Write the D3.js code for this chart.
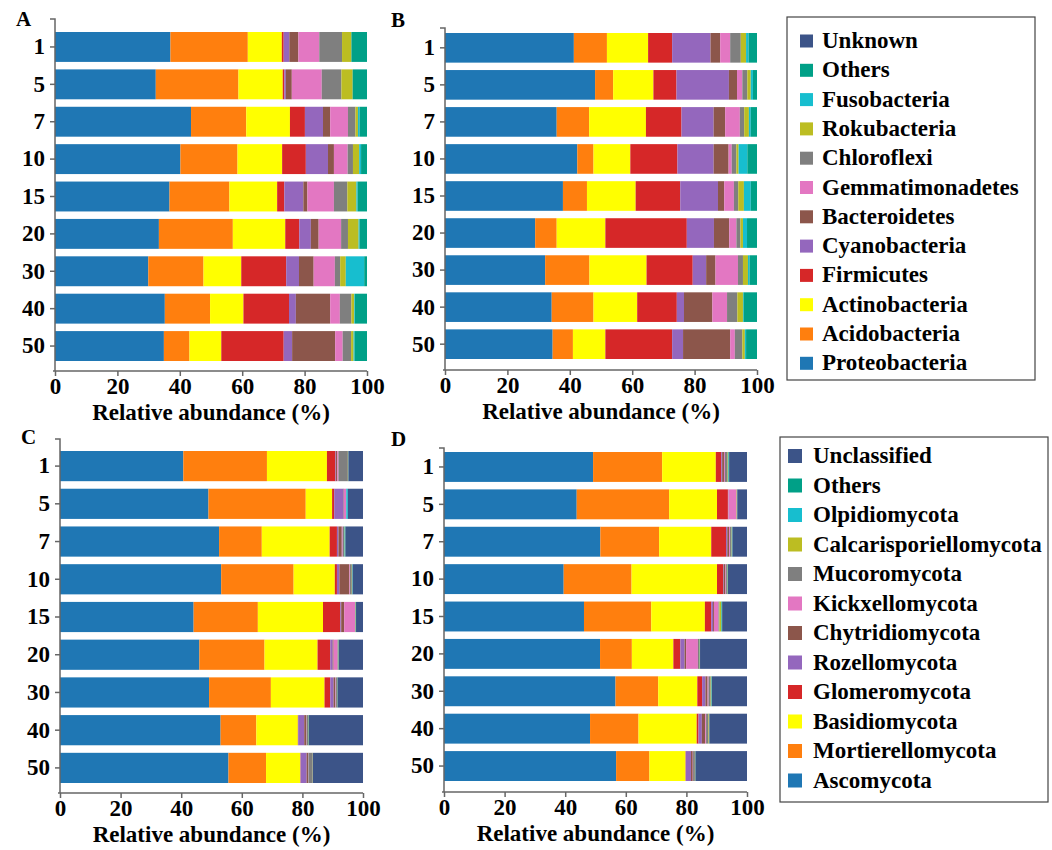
<!DOCTYPE html>
<html>
<head>
<meta charset="utf-8">
<script src="https://cdn.jsdelivr.net/npm/d3@7"></script>
<style>
  html, body { margin: 0; padding: 0; background: #fff; }
  svg { display: block; }
</style>
</head>
<body>
<svg id="chart" width="1052" height="850"></svg>
<script>
// Soil depth layers (cm) shown on each y axis
const depths = ["1", "5", "7", "10", "15", "20", "30", "40", "50"];

// Phyla, bottom of the stack first
const bacteriaPhyla = ["Proteobacteria", "Acidobacteria", "Actinobacteria", "Firmicutes",
  "Cyanobacteria", "Bacteroidetes", "Gemmatimonadetes", "Chloroflexi", "Rokubacteria",
  "Fusobacteria", "Others", "Unknown"];
const fungiPhyla = ["Ascomycota", "Mortierellomycota", "Basidiomycota", "Glomeromycota",
  "Rozellomycota", "Chytridiomycota", "Kickxellomycota", "Mucoromycota",
  "Calcarisporiellomycota", "Olpidiomycota", "Others", "Unclassified"];

const phylaColors = ["#1f77b4", "#ff7f0e", "#ffff00", "#d62728", "#9467bd", "#8c564b",
  "#e377c2", "#7f7f7f", "#bcbd22", "#17becf", "#00a087", "#3c5488"];

// Relative abundance (%) per depth, columns in phylum order
const bacteriaA = [
  [37.0, 24.8, 10.9, 0.6, 1.8, 2.9, 6.7, 7.3, 3.0, 0.0, 5.0, 0],
  [32.3, 26.5, 14.2, 0.5, 0.5, 1.9, 9.6, 6.3, 3.6, 0.0, 4.6, 0],
  [43.6, 17.7, 14.0, 4.8, 5.8, 2.3, 5.7, 2.4, 0.8, 0.5, 2.4, 0],
  [40.2, 18.3, 14.3, 7.6, 7.1, 1.9, 4.4, 1.7, 2.0, 0.6, 1.9, 0],
  [36.7, 19.2, 15.3, 2.3, 6.1, 1.3, 8.5, 4.3, 2.9, 0.4, 3.0, 0],
  [33.3, 23.7, 16.8, 4.5, 3.7, 2.5, 7.2, 2.2, 3.4, 0.3, 2.4, 0],
  [29.9, 17.7, 12.1, 14.4, 4.1, 4.7, 6.8, 1.7, 1.8, 5.9, 0.9, 0],
  [35.2, 14.5, 10.7, 14.6, 2.2, 11.0, 3.1, 3.7, 0.9, 0.2, 3.9, 0],
  [34.9, 8.2, 10.2, 20.0, 2.7, 13.8, 2.4, 2.7, 0.8, 0.3, 4.0, 0]
];
const bacteriaB = [
  [41.3, 10.6, 13.2, 7.7, 12.3, 3.1, 3.2, 3.4, 1.7, 0.8, 2.7, 0],
  [48.1, 5.8, 12.9, 7.4, 16.8, 2.6, 1.7, 1.6, 1.1, 0.7, 1.3, 0],
  [35.8, 10.4, 18.2, 11.4, 10.3, 3.7, 4.7, 1.4, 1.5, 0.6, 2.0, 0],
  [42.4, 5.2, 11.8, 15.1, 11.6, 4.8, 1.0, 1.5, 0.7, 2.8, 3.1, 0],
  [37.8, 7.7, 15.6, 14.3, 12.1, 2.0, 3.1, 1.4, 1.8, 2.2, 2.0, 0],
  [28.9, 6.9, 15.6, 26.1, 8.7, 4.9, 2.3, 1.3, 0.8, 1.3, 3.2, 0],
  [32.1, 14.2, 18.3, 14.8, 4.3, 3.0, 7.2, 1.6, 1.6, 0.5, 2.4, 0],
  [34.2, 13.4, 14.0, 12.7, 2.3, 9.1, 4.7, 3.3, 1.8, 0.2, 4.3, 0],
  [34.5, 6.5, 10.4, 21.4, 3.5, 15.1, 1.5, 2.4, 0.8, 0.4, 3.5, 0]
];
const fungiC = [
  [40.7, 27.6, 19.8, 2.8, 0.2, 0.4, 0.4, 3.1, 0.1, 0.0, 0.1, 4.8],
  [49.0, 32.1, 8.7, 0.7, 3.1, 0.1, 0.7, 0.1, 0.0, 0.5, 0.0, 5.0],
  [52.5, 14.1, 22.4, 2.4, 0.5, 1.1, 0.3, 0.5, 0.1, 0.1, 0.2, 5.8],
  [53.2, 23.9, 13.6, 0.7, 0.8, 3.3, 0.2, 0.6, 0.1, 0.1, 0.1, 3.4],
  [44.1, 21.2, 21.5, 5.7, 0.3, 1.0, 3.6, 0.1, 0.1, 0.0, 0.1, 2.3],
  [46.0, 21.5, 17.5, 4.2, 0.8, 0.3, 1.3, 0.2, 0.1, 0.0, 0.1, 8.0],
  [49.2, 20.4, 17.7, 1.9, 1.1, 0.5, 0.2, 0.4, 0.1, 0.0, 0.1, 8.4],
  [53.0, 11.8, 13.7, 0.1, 2.0, 0.7, 0.1, 0.5, 0.1, 0.0, 0.1, 17.9],
  [55.6, 12.4, 11.3, 0.1, 2.0, 0.5, 0.1, 1.3, 0.1, 0.0, 0.0, 16.6]
];
const fungiD = [
  [49.2, 22.8, 17.7, 1.8, 0.3, 0.6, 0.3, 0.9, 0.2, 0.1, 0.2, 5.9],
  [43.8, 30.5, 15.8, 3.6, 0.1, 0.1, 2.6, 0.1, 0.1, 0.0, 0.1, 3.2],
  [51.6, 19.4, 17.2, 4.9, 0.4, 0.6, 0.3, 0.5, 0.1, 0.1, 0.1, 4.8],
  [39.5, 22.4, 28.2, 2.0, 0.2, 0.6, 0.2, 0.4, 0.1, 0.0, 0.1, 6.3],
  [46.2, 22.2, 17.7, 2.1, 0.6, 0.3, 1.5, 0.3, 0.6, 0.1, 0.2, 8.2],
  [51.5, 10.5, 13.7, 2.3, 1.4, 0.5, 3.9, 0.5, 0.1, 0.0, 0.1, 15.5],
  [56.6, 14.1, 12.9, 1.6, 1.1, 0.7, 0.3, 0.7, 0.2, 0.1, 0.1, 11.6],
  [48.2, 16.0, 19.2, 0.6, 1.1, 1.1, 0.3, 0.8, 0.2, 0.0, 0.1, 12.4],
  [56.8, 11.0, 11.9, 0.1, 1.7, 0.6, 0.1, 0.6, 0.1, 0.0, 0.1, 17.0]
];

const xTicks = [0, 20, 40, 60, 80, 100];
const axisTitle = "Relative abundance (%)";

// Panel placement on the page
const panels = [
  { label: "A", values: bacteriaA, phyla: bacteriaPhyla, x0: 55, x1: 367, axisTop: 19, axisBot: 371, barTop: 32, barBot: 361, lx: 16, ly: 26 },
  { label: "B", values: bacteriaB, phyla: bacteriaPhyla, x0: 445, x1: 757, axisTop: 28, axisBot: 370, barTop: 33, barBot: 359, lx: 391, ly: 27 },
  { label: "C", values: fungiC, phyla: fungiPhyla, x0: 60, x1: 363, axisTop: 439, axisBot: 793, barTop: 451, barBot: 783, lx: 21, ly: 444 },
  { label: "D", values: fungiD, phyla: fungiPhyla, x0: 444, x1: 747, axisTop: 448, axisBot: 792, barTop: 452, barBot: 781, lx: 391, ly: 446 }
];

const legends = [
  { phyla: bacteriaPhyla, box: [787, 17, 248, 363], sq: 13, sqX: 800, textX: 822, y0: 48, step: 29.3, sqOff: 7 },
  { phyla: fungiPhyla, box: [780, 437, 268, 365], sq: 14, sqX: 788, textX: 813, y0: 463, step: 29.5, sqOff: 7 }
];

const FONT = "'Liberation Serif', 'Times New Roman', Times, serif";
const svg = d3.select("#chart");
const axisColor = "#666";

function styleText(sel, size) {
  sel.style("font-family", FONT)
     .style("font-weight", "bold")
     .style("font-size", size + "px")
     .attr("fill", "#000");
}

panels.forEach(p => {
  const rows = depths.map((d, i) => {
    const r = { depth: d };
    p.phyla.forEach((k, j) => { r[k] = p.values[i][j]; });
    return r;
  });
  const series = d3.stack().keys(p.phyla)(rows);

  const x = d3.scaleLinear().domain([0, 100]).range([p.x0, p.x1]);
  const y = d3.scaleBand().domain(depths).range([p.barTop, p.barBot]).paddingInner(0.2).paddingOuter(0);
  const color = d3.scaleOrdinal().domain(p.phyla).range(phylaColors);

  const g = svg.append("g");

  g.selectAll("g.layer")
    .data(series)
    .join("g")
      .attr("class", "layer")
      .attr("fill", s => color(s.key))
    .selectAll("rect")
    .data(s => s)
    .join("rect")
      .attr("x", d => x(d[0]))
      .attr("width", d => Math.max(0, x(d[1]) - x(d[0])))
      .attr("y", d => y(d.data.depth))
      .attr("height", y.bandwidth());

  // y axis
  const yAxis = g.append("g")
    .attr("transform", `translate(${p.x0},0)`)
    .call(d3.axisLeft(y).tickSize(5).tickPadding(5).tickSizeOuter(0));
  yAxis.select(".domain").remove();
  yAxis.selectAll(".tick line").attr("stroke", axisColor).attr("stroke-width", 1.5);
  styleText(yAxis.selectAll(".tick text"), 23);
  g.append("path")
    .attr("d", `M${p.x0 - 5},${p.axisTop}H${p.x0}V${p.axisBot}`)
    .attr("fill", "none").attr("stroke", axisColor).attr("stroke-width", 1.5);

  // x axis
  const xAxis = g.append("g")
    .attr("transform", `translate(0,${p.axisBot})`)
    .call(d3.axisBottom(x).tickValues(xTicks).tickSize(5).tickPadding(2).tickSizeOuter(0));
  xAxis.select(".domain").attr("stroke", axisColor).attr("stroke-width", 1.5)
    .attr("d", `M${p.x0 - 2},0H${p.x1}`);
  xAxis.selectAll(".tick line").attr("stroke", axisColor).attr("stroke-width", 1.5);
  styleText(xAxis.selectAll(".tick text"), 23);

  styleText(g.append("text")
    .attr("x", (p.x0 + p.x1) / 2)
    .attr("y", p.axisBot + 49)
    .attr("text-anchor", "middle")
    .text(axisTitle), 23);

  styleText(g.append("text")
    .attr("x", p.lx)
    .attr("y", p.ly)
    .text(p.label), 21);
});

legends.forEach(L => {
  const color = d3.scaleOrdinal().domain(L.phyla).range(phylaColors);
  const g = svg.append("g");
  g.append("rect")
    .attr("x", L.box[0]).attr("y", L.box[1])
    .attr("width", L.box[2]).attr("height", L.box[3])
    .attr("fill", "none").attr("stroke", "#444").attr("stroke-width", 1.2);
  const items = L.phyla.slice().reverse();
  const it = g.selectAll("g.item").data(items).join("g").attr("class", "item")
    .attr("transform", (d, i) => `translate(0,${L.y0 + i * L.step})`);
  it.append("rect")
    .attr("x", L.sqX).attr("y", -L.sqOff - L.sq / 2)
    .attr("width", L.sq).attr("height", L.sq)
    .attr("fill", d => color(d));
  styleText(it.append("text")
    .attr("x", L.textX).attr("y", 0)
    .text(d => d), 23);
});
</script>
</body>
</html>
